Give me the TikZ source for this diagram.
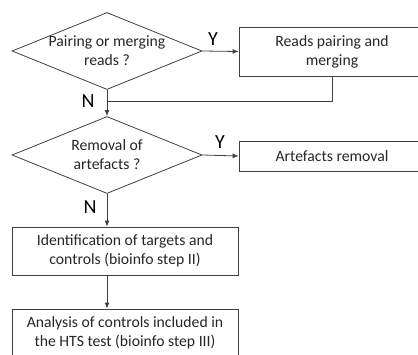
\documentclass[tikz,border=0pt]{standalone}
\usepackage{fontspec}
\setmainfont{Carlito}
\usetikzlibrary{positioning,arrows.meta,shapes.geometric}

\begin{document}
\begin{tikzpicture}[x=1pt, y=-1pt, >={Latex[length=6pt,width=5pt]},
    every node/.style={font=\fontsize{15.7}{19}\selectfont, text=black!85},
    decision/.style={draw=black!75, line width=0.8pt, diamond, aspect=2.45,
      inner xsep=-8pt, inner ysep=-6pt, align=center,
      minimum width=190pt, minimum height=77pt},
    process/.style={draw=black!75, line width=0.8pt, rectangle, align=center},
    flow/.style={draw=black!75, line width=0.8pt},
    answer/.style={font=\fontsize{20}{24}\selectfont, text=black}]
  \useasboundingbox (0,0) rectangle (418,354);
  \node (pair) [decision] at (107,51) {Pairing or merging\\reads ?};
  \node (pairbox) [process, minimum width=186pt, minimum height=49pt]
    at (332,51.5) {Reads pairing and\\merging};
  \node (art) [decision] at (107,155) {Removal of\\artefacts ?};
  \node (artbox) [process, minimum width=186pt, minimum height=30pt]
    at (332,156) {Artefacts removal};
  \node (ident) [process, minimum width=226pt, minimum height=48pt]
    at (125,251) {Identification of targets and\\controls (bioinfo step II)};
  \node (ctrl) [process, minimum width=226pt, minimum height=48pt]
    at (125,333) {Analysis of controls included in\\the HTS test (bioinfo step III)};
  \coordinate (join) at (pair.south |- 0,101);
  % yes branches
  \draw[flow, ->] (pair.east) -- (pairbox.west);
  \draw[flow, ->] (art.east) -- (artbox.west);
  \node (y1) [answer] at (213,39) {Y};
  \node (y2) [answer] at (220,142) {Y};
  % no branches
  \draw[flow] (pairbox.south) |- (join);
  \draw[flow, ->] (pair.south) -- (art.north);
  \draw[flow, ->] (art.south) -- (art.south |- ident.north);
  \draw[flow, ->] (art.south |- ident.south) -- (art.south |- ctrl.north);
  \node (n1) [answer] at (88,101) {N};
  \node (n2) [answer] at (90,207) {N};
\end{tikzpicture}
\end{document}
